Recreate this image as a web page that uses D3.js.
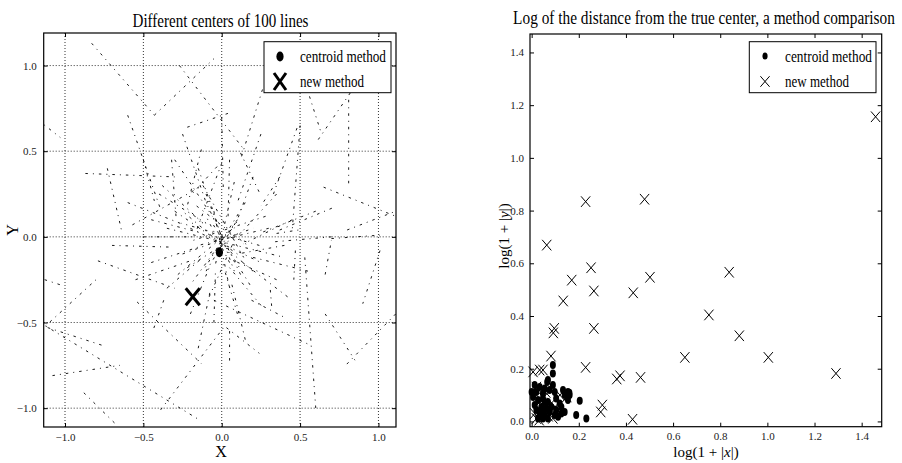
<!DOCTYPE html>
<html>
<head>
<meta charset="utf-8">
<script src="https://d3js.org/d3.v7.min.js"></script>
<style>
  body { margin: 0; background: #fff; }
  text { font-family: "Liberation Serif", "DejaVu Serif", serif; fill: #000; }
  .tick text { font-size: 11px; fill: #222; }
</style>
</head>
<body>
<div id="chart"></div>
<script>
// Left panel: the 100 line segments [x1, y1, x2, y2]
var lineSegs = [
  [-0.83, 1.13, -0.43, 0.71], [-0.43, 0.71, -0.05, 1.04], [-0.27, 1.00, 0.15, 0.50],
  [-0.60, 0.71, -0.39, 0.16], [-0.22, 0.64, 0.07, 0.73], [-1.17, 0.68, -1.03, 0.58],
  [-0.87, 0.37, -0.30, 0.35], [-0.73, 0.40, -0.64, 0.04], [-0.57, 0.07, -0.14, 0.29],
  [0.26, 0.86, 0.12, 0.45], [0.56, 0.82, 0.63, 0.62], [0.82, 0.84, 0.61, 0.56],
  [0.81, 0.80, 0.81, 0.31], [0.65, 0.29, 1.11, 0.12], [0.37, 0.04, 0.71, 0.17],
  [0.80, 0.04, 1.14, 0.16], [0.33, 0.25, 0.49, 0.66], [0.50, 0.65, 0.45, 0.04],
  [-0.79, -0.14, -0.30, -0.30], [-1.13, -0.25, -1.03, -0.28], [-1.16, -0.55, -0.79, -0.24],
  [-1.11, -0.53, -0.74, -0.64], [-1.16, -0.50, -0.14, -1.07], [-1.08, -0.81, -0.65, -0.75],
  [-0.88, -0.91, -0.68, -1.09], [-0.54, -0.38, -0.13, -0.74], [-0.37, -0.37, -0.44, -0.55],
  [-0.39, -1.01, 0.02, -0.52], [0.66, -0.22, 0.70, -0.02], [0.70, -0.01, 1.01, 0.01],
  [1.01, -0.08, 0.90, -0.39], [0.66, -0.45, 0.85, -0.72], [1.11, -0.45, 0.78, -0.76],
  [0.53, -0.12, 0.60, -1.00], [-0.05, -0.37, 0.56, -0.63], [0.03, -0.53, 0.24, -0.68],
  [0.05, -0.55, 0.05, -0.74], [0.19, -0.37, 0.40, -0.47], [0.31, -0.31, 0.32, -0.42],
  [0.47, -0.08, 0.46, -0.25], [0.12, 0.49, 0.25, 0.24], [0.37, 0.35, 0.25, 0.18],
  [-0.13, 0.51, -0.22, 0.18], [-0.03, 0.41, -0.19, 0.25], [-0.50, 0.45, -0.43, 0.21],
  [-0.32, 0.45, -0.29, 0.10], [0.00, 0.43, -0.16, 0.04], [0.35, 0.02, 0.49, 0.04],
  [-0.45, 0.10, -0.12, 0.02], [-0.40, 0.25, -0.10, 0.08], [-0.30, 0.45, -0.06, 0.12],
  [-0.15, 0.40, -0.02, 0.06], [0.05, 0.45, 0.04, 0.10], [0.20, 0.35, 0.08, 0.05],
  [0.35, 0.25, 0.12, 0.02], [0.45, 0.10, 0.14, -0.04], [0.40, -0.05, 0.10, -0.10],
  [0.35, -0.25, 0.08, -0.14], [0.25, -0.40, 0.05, -0.18], [0.10, -0.45, 0.02, -0.20],
  [-0.05, -0.50, -0.04, -0.20], [-0.20, -0.45, -0.08, -0.18], [-0.35, -0.30, -0.12, -0.12],
  [-0.45, -0.15, -0.15, -0.06], [-0.50, 0.00, -0.18, 0.00], [-0.30, 0.15, 0.10, -0.10],
  [-0.25, -0.10, 0.20, 0.05], [-0.10, 0.25, 0.08, -0.20], [0.15, 0.20, -0.12, -0.20],
  [-0.20, 0.05, 0.25, -0.15], [0.30, 0.05, -0.15, -0.05], [-0.05, 0.15, 0.05, -0.30],
  [0.10, 0.10, -0.20, -0.28], [-0.60, 0.20, -0.24, 0.07], [0.60, 0.15, 0.24, 0.02],
  [0.55, -0.20, 0.20, -0.12], [-0.55, -0.25, -0.20, -0.14], [0.15, -0.60, 0.06, -0.26],
  [-0.15, -0.65, -0.07, -0.30], [-0.25, 0.60, -0.10, 0.20], [0.25, 0.60, 0.10, 0.20],
  [0.70, 0.00, 0.32, -0.03], [-0.70, -0.05, -0.32, -0.06], [0.00, 0.70, 0.01, 0.28],
  [-0.10, -0.20, 0.10, 0.10], [0.05, -0.15, -0.10, 0.12], [-0.35, 0.05, 0.40, -0.12],
  [0.20, -0.20, -0.25, 0.15], [-0.22, -0.18, 0.12, 0.02], [0.18, -0.28, -0.06, 0.08],
  [-0.12, 0.30, 0.14, -0.12], [0.28, 0.12, -0.18, -0.02], [-0.28, -0.22, 0.06, 0.04],
  [0.08, 0.32, -0.04, -0.16], [-0.08, -0.35, 0.10, 0.02], [0.24, -0.05, -0.26, 0.08],
  [-0.16, 0.18, 0.18, -0.06], [0.12, -0.22, -0.10, 0.20], [-0.38, 0.30, -0.12, 0.08],
  [0.42, -0.35, 0.12, -0.14]
];
var centroidPt = [-0.015, -0.09];
var newPt = [-0.185, -0.35];
var leftTicks = [-1.0, -0.5, 0.0, 0.5, 1.0];

// Right panel: log(1+|x|), log(1+|y|) for each method
var centroidX = [0.090, 0.090, 0.069, 0.090, 0.013, 0.034, 0.055, 0.076, 0.098, 0.133,
  0.154, 0.161, 0.140, 0.006, 0.027, 0.048, 0.069, 0.104, 0.119, 0.154,
  0.204, 0.013, 0.041, 0.083, 0.126, 0.140, 0.189, 0.232, 0.034, 0.055,
  0.076, 0.098, 0.048, 0.069, 0.027, 0.112, 0.041, 0.062, 0.000, 0.020,
  0.048, 0.055, 0.020, 0.104, 0.126, 0.066, 0.160];
var centroidY = [0.214, 0.182, 0.157, 0.138, 0.138, 0.131, 0.125, 0.119, 0.112, 0.119,
  0.112, 0.100, 0.100, 0.093, 0.081, 0.087, 0.074, 0.087, 0.068, 0.081,
  0.078, 0.062, 0.055, 0.055, 0.055, 0.036, 0.024, 0.011, 0.030, 0.024,
  0.036, 0.024, 0.011, 0.011, 0.011, 0.018, 0.043, 0.049, 0.112, 0.112,
  0.106, 0.074, 0.043, 0.043, 0.030, 0.150, 0.109];
var newX = [1.459, 0.229, 0.479, 0.064, 0.252, 0.170, 0.502, 0.264, 0.134, 0.431,
  0.838, 0.752, 0.881, 0.096, 0.092, 0.264, 0.082, 0.650, 1.004, 1.291,
  0.229, 0.375, 0.361, 0.462, 0.300, 0.293, 0.428, 0.006, 0.034, 0.048,
  0.013, 0.020, 0.090, 0.032, 0.099, 0.149, 0.035, 0.020, 0.050, 0.070,
  0.110, 0.040, 0.060, 0.085, 0.120];
var newY = [1.156, 0.834, 0.843, 0.669, 0.583, 0.536, 0.547, 0.495, 0.457, 0.488,
  0.566, 0.404, 0.325, 0.353, 0.336, 0.353, 0.248, 0.243, 0.243, 0.182,
  0.205, 0.173, 0.161, 0.167, 0.062, 0.036, 0.008, 0.188, 0.195, 0.195,
  0.030, 0.011, 0.012, 0.005, 0.055, 0.093, 0.075, 0.130, 0.090, 0.020,
  0.040, 0.060, 0.110, 0.070, 0.100];
var rightTicks = [0.0, 0.2, 0.4, 0.6, 0.8, 1.0, 1.2, 1.4];

var svg = d3.select("#chart").append("svg")
  .attr("width", 902)
  .attr("height", 463);

var fmt = d3.format(".1f");

// X marker path
function xMark(w, h) {
  return "M" + (-w) + "," + (-h) + "L" + w + "," + h + "M" + (-w) + "," + h + "L" + w + "," + (-h);
}

// squeeze a text horizontally to the width seen in the picture
function fitText(x, y, str, size, width, anchor) {
  var t = svg.append("text")
    .attr("font-size", size)
    .attr("text-anchor", anchor || "start")
    .text(str);
  var natural = t.node().getComputedTextLength();
  var sx = Math.min(1, width / natural);
  t.attr("transform", `translate(${x},${y}) scale(${sx},1)`);
  return t;
}

// ---------------- Left panel ----------------
var L = { left: 43.7, right: 396, top: 33, bottom: 427 };
var xL = d3.scaleLinear().domain([-1.136, 1.112]).range([L.left, L.right]);
var yL = d3.scaleLinear().domain([-1.11, 1.19]).range([L.bottom, L.top]);

svg.append("clipPath").attr("id", "clipL")
  .append("rect")
  .attr("x", L.left).attr("y", L.top)
  .attr("width", L.right - L.left).attr("height", L.bottom - L.top);

// grid
var gridL = svg.append("g");
gridL.selectAll(".gx").data(leftTicks).enter().append("line")
  .attr("x1", d => xL(d)).attr("x2", d => xL(d))
  .attr("y1", L.top).attr("y2", L.bottom)
  .attr("stroke", "#333").attr("stroke-width", 1).attr("stroke-dasharray", "1,2");
gridL.selectAll(".gy").data(leftTicks).enter().append("line")
  .attr("y1", d => yL(d)).attr("y2", d => yL(d))
  .attr("x1", L.left).attr("x2", L.right)
  .attr("stroke", "#333").attr("stroke-width", 1).attr("stroke-dasharray", "1,2");

// the lines
svg.append("g").attr("clip-path", "url(#clipL)")
  .selectAll("line").data(lineSegs).enter().append("line")
  .attr("x1", d => xL(d[0])).attr("y1", d => yL(d[1]))
  .attr("x2", d => xL(d[2])).attr("y2", d => yL(d[3]))
  .attr("stroke", "#000").attr("stroke-width", 0.9)
  .attr("stroke-dasharray", "2.5,5,1,5");

// centers
svg.append("ellipse")
  .attr("cx", xL(centroidPt[0])).attr("cy", yL(centroidPt[1]))
  .attr("rx", 3.6).attr("ry", 5).attr("fill", "#000");
svg.append("path")
  .attr("transform", `translate(${xL(newPt[0])},${yL(newPt[1])})`)
  .attr("d", xMark(7, 8.5))
  .attr("stroke", "#000").attr("stroke-width", 3).attr("fill", "none");

// axes (inward ticks on all sides)
var axL = svg.append("g").attr("class", "axes");
axL.append("g").attr("transform", `translate(0,${L.bottom})`)
  .call(d3.axisBottom(xL).tickValues(leftTicks).tickFormat(fmt).tickSize(-4).tickPadding(6));
axL.append("g").attr("transform", `translate(0,${L.top})`)
  .call(d3.axisTop(xL).tickValues(leftTicks).tickFormat("").tickSize(-4));
axL.append("g").attr("transform", `translate(${L.left},0)`)
  .call(d3.axisLeft(yL).tickValues(leftTicks).tickFormat(fmt).tickSize(-4).tickPadding(7));
axL.append("g").attr("transform", `translate(${L.right},0)`)
  .call(d3.axisRight(yL).tickValues(leftTicks).tickFormat("").tickSize(-4));

svg.append("rect")
  .attr("x", L.left).attr("y", L.top)
  .attr("width", L.right - L.left).attr("height", L.bottom - L.top)
  .attr("fill", "none").attr("stroke", "#000").attr("stroke-width", 1.2);

// legend
var legL = svg.append("g");
legL.append("rect").attr("x", 264).attr("y", 41.7).attr("width", 127).attr("height", 51)
  .attr("fill", "#fff").attr("stroke", "#000").attr("stroke-width", 1);
legL.append("ellipse").attr("cx", 280).attr("cy", 56.5).attr("rx", 3.6).attr("ry", 5).attr("fill", "#000");
legL.append("path").attr("transform", "translate(280,81.5)").attr("d", xMark(6, 8.5))
  .attr("stroke", "#000").attr("stroke-width", 3).attr("fill", "none");
fitText(300, 61.5, "centroid method", 16, 86);
fitText(300, 86.5, "new method", 16, 64);

// title and labels
fitText(220.5, 27, "Different centers of 100 lines", 19, 176, "middle");
svg.append("text").attr("x", 221).attr("y", 457).attr("text-anchor", "middle")
  .attr("font-size", 16).text("X");
svg.append("text").attr("transform", "translate(18,230) rotate(-90)").attr("text-anchor", "middle")
  .attr("font-size", 16).text("Y");

// ---------------- Right panel ----------------
var R = { left: 530, right: 881.7, top: 34, bottom: 426.7 };
var xR = d3.scaleLinear().domain([-0.007, 1.485]).range([R.left, R.right]);
var yR = d3.scaleLinear().domain([-0.02, 1.47]).range([R.bottom, R.top]);

var ptsC = centroidX.map((d, i) => [d, centroidY[i]]);
var ptsN = newX.map((d, i) => [d, newY[i]]);

svg.append("g").selectAll("ellipse").data(ptsC).enter().append("ellipse")
  .attr("cx", d => xR(d[0])).attr("cy", d => yR(d[1]))
  .attr("rx", 3).attr("ry", 4).attr("fill", "#000");

svg.append("g").selectAll("path").data(ptsN).enter().append("path")
  .attr("transform", d => `translate(${xR(d[0])},${yR(d[1])})`)
  .attr("d", xMark(4.6, 5.3))
  .attr("stroke", "#000").attr("stroke-width", 1).attr("fill", "none");

var axR = svg.append("g").attr("class", "axes");
axR.append("g").attr("transform", `translate(0,${R.bottom})`)
  .call(d3.axisBottom(xR).tickValues(rightTicks).tickFormat(fmt).tickSize(-4).tickPadding(6));
axR.append("g").attr("transform", `translate(0,${R.top})`)
  .call(d3.axisTop(xR).tickValues(rightTicks).tickFormat("").tickSize(-4));
axR.append("g").attr("transform", `translate(${R.left},0)`)
  .call(d3.axisLeft(yR).tickValues(rightTicks).tickFormat(fmt).tickSize(-4).tickPadding(6));
axR.append("g").attr("transform", `translate(${R.right},0)`)
  .call(d3.axisRight(yR).tickValues(rightTicks).tickFormat("").tickSize(-4));

svg.append("rect")
  .attr("x", R.left).attr("y", R.top)
  .attr("width", R.right - R.left).attr("height", R.bottom - R.top)
  .attr("fill", "none").attr("stroke", "#000").attr("stroke-width", 1.2);

// legend
var legR = svg.append("g");
legR.append("rect").attr("x", 749.3).attr("y", 41.7).attr("width", 126.7).attr("height", 51)
  .attr("fill", "#fff").attr("stroke", "#000").attr("stroke-width", 1);
legR.append("ellipse").attr("cx", 765).attr("cy", 56).attr("rx", 2.6).attr("ry", 3.5).attr("fill", "#000");
legR.append("path").attr("transform", "translate(765,81.5)").attr("d", xMark(4.6, 5.3))
  .attr("stroke", "#000").attr("stroke-width", 1).attr("fill", "none");
fitText(785, 61.5, "centroid method", 16, 87);
fitText(785, 86.5, "new method", 16, 64);

fitText(704, 24, "Log of the distance from the true center, a method comparison", 19, 382, "middle");

// axis labels with italic variables
var xlab = svg.append("text").attr("x", 706).attr("y", 457).attr("text-anchor", "middle")
  .attr("font-size", 15);
xlab.append("tspan").text("log(1 + |");
xlab.append("tspan").attr("font-style", "italic").text("x");
xlab.append("tspan").text("|)");

var ylab = svg.append("text").attr("transform", "translate(509,236) rotate(-90)")
  .attr("text-anchor", "middle").attr("font-size", 15);
ylab.append("tspan").text("log(1 + |");
ylab.append("tspan").attr("font-style", "italic").text("y");
ylab.append("tspan").text("|)");

// plain axis styling
svg.selectAll(".axes .domain").remove();
svg.selectAll(".axes .tick line").attr("stroke", "#000");
</script>
</body>
</html>
